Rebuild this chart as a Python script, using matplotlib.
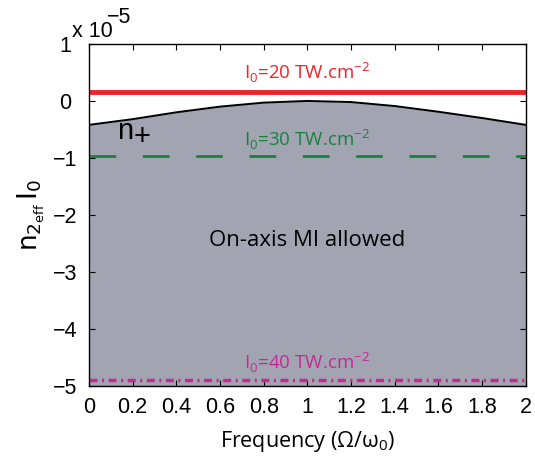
import matplotlib
matplotlib.use("Agg")
import matplotlib.pyplot as plt
import numpy as np

# data (units of 1e-5)
freq = [0, 0.2, 0.4, 0.6, 0.8, 1.0, 1.2, 1.4, 1.6, 1.8, 2.0]
n_plus = [-0.42, -0.32, -0.2, -0.1, -0.03, 0.0, -0.02, -0.09, -0.19, -0.30, -0.42]
level_20 = 0.15
level_30 = -0.97
level_40 = -4.9
xticks = [0, 0.2, 0.4, 0.6, 0.8, 1, 1.2, 1.4, 1.6, 1.8, 2]
xtick_labels = ["0", "0.2", "0.4", "0.6", "0.8", "1", "1.2", "1.4", "1.6", "1.8", "2"]
yticks = [-5, -4, -3, -2, -1, 0, 1]
ytick_labels = ["\u22125", "\u22124", "\u22123", "\u22122", "\u22121", "0", "1"]

fig = plt.figure(figsize=(5.35, 4.57), dpi=100)
ax = fig.add_axes([0.166, 0.155, 0.817, 0.749])

ax.fill_between(freq, n_plus, -5, color="#a3a4b1", lw=0)
ax.plot(freq, n_plus, color="black", lw=1.4)
ax.plot([0, 2], [level_20, level_20], color="#ee2227", lw=3.5)
ax.plot([0, 2], [level_30, level_30], color="#1a8040", lw=2, dashes=(9.6, 9.6))
ax.plot([0, 2], [level_40, level_40], color="#c42a96", lw=2.5, dashes=(2.3, 1.3, 0.6, 1.3))

ax.set_xlim(0, 2)
ax.set_ylim(-5, 1)
ax.set_xticks(xticks)
ax.set_xticklabels(xtick_labels, family="Liberation Sans", fontsize=15.5)
ax.set_yticks(yticks)
ax.set_yticklabels(ytick_labels, family="Liberation Sans", fontsize=15.5, ha="center")
ax.tick_params(direction="in", top=True, right=True, length=4, width=0.8)
ax.tick_params(axis="x", pad=8)
ax.tick_params(axis="y", pad=17)
for s in ax.spines.values():
    s.set_linewidth(1.0)

ax.set_xlabel(r"Frequency ($\mathregular{\Omega/\omega_0}$)", family="Open Sans", fontsize=15.5, labelpad=8)
ax.set_ylabel(r"$\mathregular{n_{2_{eff}}\,I_0}$", fontsize=19, labelpad=4)

fig.text(72 / 535, 1 - 37 / 457, "x 10", family="Liberation Sans", fontsize=15.5,
         ha="left", va="baseline")
fig.text(107 / 535, 1 - 23 / 457, "\u22125", family="Liberation Sans", fontsize=15.5,
         ha="left", va="baseline")

ax.text(1.0, 0.49, r"I$_\mathregular{0}$=20 TW.cm$^{\mathregular{-2}}$", color="#ee2227",
        family="Open Sans", fontsize=13.5, ha="center", va="center")
ax.text(1.0, -0.69, r"I$_\mathregular{0}$=30 TW.cm$^{\mathregular{-2}}$", color="#1a8040",
        family="Open Sans", fontsize=13.5, ha="center", va="center")
ax.text(1.0, -4.6, r"I$_\mathregular{0}$=40 TW.cm$^{\mathregular{-2}}$", color="#c42a96",
        family="Open Sans", fontsize=13.5, ha="center", va="center")
ax.text(0.128, -0.53, "n", family="Liberation Sans", fontsize=21,
        ha="left", va="center")
ax.text(0.205, -0.64, "+", family="Liberation Sans", fontsize=21,
        ha="left", va="center")
ax.text(1.0, -2.45, "On-axis MI allowed", family="Open Sans", fontsize=16,
        ha="center", va="center")

fig.savefig("out.png", dpi=100)
